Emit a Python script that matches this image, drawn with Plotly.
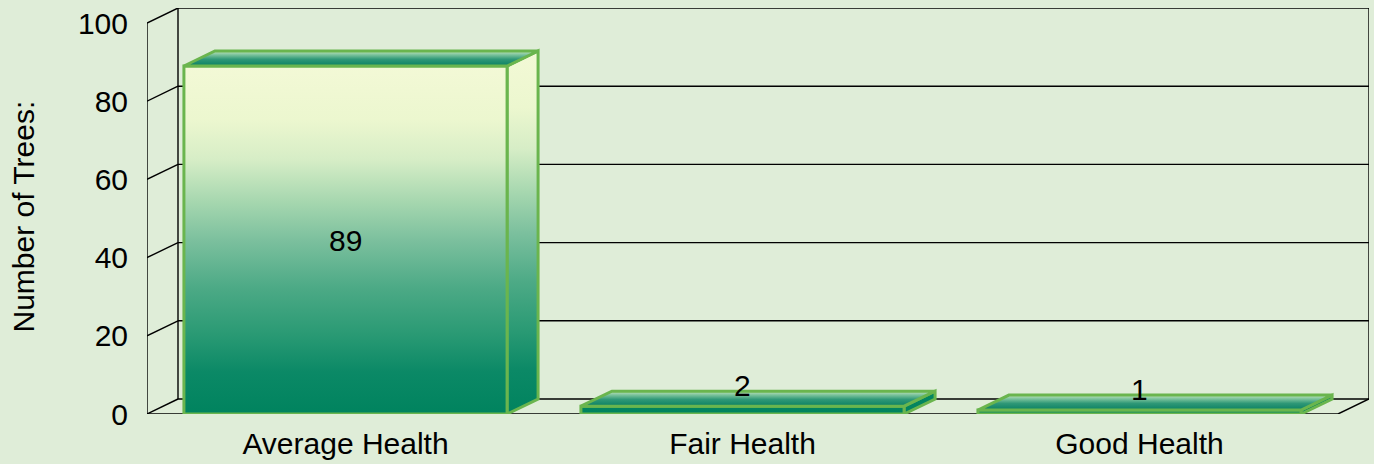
import plotly.graph_objects as go

# ---------------- data ----------------
categories = ["Average Health", "Fair Health", "Good Health"]
values = [89, 2, 1]
y_ticks = [0, 20, 40, 60, 80, 100]
y_title = "Number of Trees:"

# ---------------- style / layout constants ----------------
W, H = 1374, 464
M_L, M_R, M_T, M_B = 147, 5, 8, 50
DEPTH_X_PX, DEPTH_Y_PX = 31, 15
BAR_FRAC = 0.814
BG = "#DFEDD8"
EDGE = "#6AB54E"
FONT = "Liberation Sans, Arial, sans-serif"
FS = 30
TITLE_X_PX, TITLE_Y_PX = 22.5, 217

front_scale = [[0.0, "#00835E"], [0.12, "#0B8966"], [0.23, "#2A9A74"], [0.365, "#4DAA86"],
               [0.5, "#7CC09E"], [0.61, "#A6D7AF"], [0.73, "#D6EDC6"], [0.845, "#ECF7CF"],
               [1.0, "#F3F9D6"]]
top_scale = [[0.0, "#0A8062"], [0.45, "#2F9877"], [0.75, "#7CC39C"], [1.0, "#C3E5BD"]]

plot_w = W - M_L - M_R
plot_h = H - M_T - M_B
n = len(categories)
y_max = max(y_ticks)
v_max = max(values)
y_unit = (plot_h - DEPTH_Y_PX) / y_max
DY = DEPTH_Y_PX / y_unit
x_unit = (plot_w - DEPTH_X_PX) / n
DX = DEPTH_X_PX / x_unit
x_lo, x_hi = -0.5, n - 0.5
hw = BAR_FRAC / 2

fig = go.Figure()

# ---------------- 3D frame (walls / gridlines) ----------------
lx, ly = [], []
def seg(x0, y0, x1, y1):
    lx.extend([x0, x1, None]); ly.extend([y0, y1, None])

for t in y_ticks:
    seg(x_lo + DX, t + DY, x_hi + DX, t + DY)   # back-wall gridline
    seg(x_lo, t, x_lo + DX, t + DY)             # left-wall diagonal
seg(x_lo, 0, x_lo, y_max)                       # front vertical axis
seg(x_lo + DX, DY, x_lo + DX, y_max + DY)       # back-left edge
seg(x_hi + DX, DY, x_hi + DX, y_max + DY)       # back-right edge
seg(x_lo, 0, x_hi, 0)                           # front floor edge
seg(x_hi, 0, x_hi + DX, DY)                     # right floor diagonal

fig.add_trace(go.Scatter(x=lx, y=ly, mode="lines",
                         line=dict(color="black", width=1.4),
                         hoverinfo="skip", showlegend=False))

# ---------------- bars ----------------
def face(xs, ys, grad_scale, start, stop):
    fig.add_trace(go.Scatter(
        x=xs + [xs[0]], y=ys + [ys[0]], mode="lines", fill="toself",
        fillgradient=dict(type="vertical", colorscale=grad_scale, start=start, stop=stop),
        line=dict(color=EDGE, width=3), hoverinfo="skip", showlegend=False))

for i, v in enumerate(values):
    l, r = i - hw, i + hw
    face([r, r + DX, r + DX, r], [0, DY, v + DY, v], front_scale, 0, v_max + DY)  # side
    face([l, r, r, l], [0, 0, v, v], front_scale, 0, v_max)                        # front
    face([l, r, r + DX, l + DX], [v, v, v + DY, v + DY], top_scale, v, v + DY)     # top

# ---------------- data labels ----------------
text_h_units = FS * 0.75 / y_unit
for i, v in enumerate(values):
    if v > 2 * text_h_units:
        fig.add_annotation(x=i, y=v / 2, text=str(v), showarrow=False,
                           font=dict(size=FS, color="black", family=FONT),
                           xanchor="center", yanchor="middle")
    else:
        fig.add_annotation(x=i, y=v + DY, text=str(v), showarrow=False,
                           font=dict(size=FS, color="black", family=FONT),
                           xanchor="center", yanchor="middle", yshift=6)

# ---------------- axis title (placed as rotated text) ----------------
fig.add_annotation(xref="paper", yref="paper",
                   x=(TITLE_X_PX - M_L) / plot_w, y=(H - M_B - TITLE_Y_PX) / plot_h,
                   text=y_title, textangle=-90, showarrow=False,
                   xanchor="center", yanchor="middle",
                   font=dict(size=FS, family=FONT, color="black"))

# ---------------- layout ----------------
fig.update_layout(
    width=W, height=H,
    margin=dict(l=M_L, r=M_R, t=M_T, b=M_B, pad=0, autoexpand=False),
    paper_bgcolor=BG, plot_bgcolor=BG,
    font=dict(family=FONT, size=FS, color="black"),
    showlegend=False,
    xaxis=dict(range=[x_lo, x_hi + DX], tickmode="array",
               tickvals=list(range(n)), ticktext=categories,
               tickfont=dict(size=30), automargin=False,
               showgrid=False, zeroline=False, showline=False, ticks="",
               ticklabelstandoff=9, fixedrange=True),
    yaxis=dict(range=[0, y_max + DY], tickmode="array", tickvals=y_ticks,
               automargin=False,
               showgrid=False, zeroline=False, showline=False, ticks="",
               ticklabelstandoff=18, fixedrange=True),
)

fig.write_html("out.html", config={"displayModeBar": False},
               post_script="document.body.style.margin='0';"
                           "document.body.style.background='" + BG + "';")
